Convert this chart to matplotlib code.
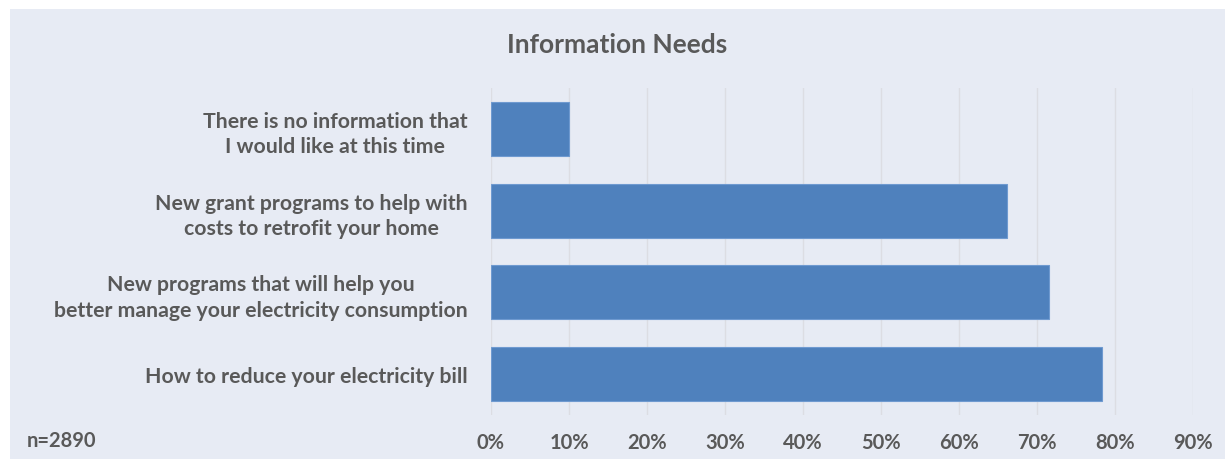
import matplotlib.pyplot as plt
from matplotlib.patches import Rectangle
from matplotlib.ticker import PercentFormatter

# Data
categories = [
    "There is no information that\nI would like at this time",
    "New grant programs to help with\ncosts to retrofit your home",
    "New programs that will help you\nbetter manage your electricity consumption",
    "How to reduce your electricity bill",
]
values = [0.10, 0.662, 0.716, 0.783]
ticks = [i / 10 for i in range(10)]

bg = "#e7ebf4"
text_color = "#595959"
plt.rcParams["font.family"] = ["Lato", "DejaVu Sans"]

fig = plt.figure(figsize=(12.25, 4.6), dpi=100)
fig.patch.set_facecolor("white")
# panel background with a thin white margin at top and left
fig.patches.append(Rectangle((10 / 1225, 0), 1, 1 - 10 / 460, transform=fig.transFigure,
                             facecolor=bg, edgecolor="none", zorder=-10))

ax = fig.add_axes([491 / 1225, 1 - 416 / 460, (1193 - 491) / 1225, (416 - 89) / 460])
ax.set_facecolor("none")

y = list(range(len(categories)))
ax.barh(y, values, height=0.66, color="#4f81bd", edgecolor="#6f9ad0", linewidth=0.8, zorder=3)
ax.set_ylim(len(categories) - 0.5, -0.5)
ax.set_xlim(0, 0.9)
ax.set_xticks(ticks)
ax.xaxis.set_major_formatter(PercentFormatter(1.0, decimals=0))
ax.set_yticks(y)
ax.set_yticklabels(categories, ha="right", multialignment="center", linespacing=1.35)

ax.grid(axis="x", color="#dcdde3", linewidth=1, zorder=0)
for s in ax.spines.values():
    s.set_visible(False)
ax.tick_params(length=0)
ax.tick_params(axis="x", pad=12, labelsize=14.5, labelcolor=text_color)
ax.tick_params(axis="y", pad=17, labelsize=15.3, labelcolor=text_color)
for lbl in ax.get_xticklabels() + ax.get_yticklabels():
    lbl.set_fontweight("bold")

fig.text(617 / 1225, 1 - 45 / 460, "Information Needs", ha="center", va="center",
         fontsize=19, fontweight="bold", color=text_color)
fig.text(27 / 1225, 1 - 441 / 460, "n=2890", ha="left", va="center",
         fontsize=14.5, fontweight="bold", color=text_color)

fig.savefig("out.png", dpi=100, facecolor=fig.get_facecolor())
